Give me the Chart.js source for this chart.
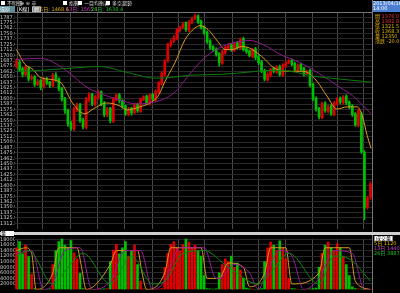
<!DOCTYPE html>
<html><head><meta charset="utf-8">
<script src="https://cdn.jsdelivr.net/npm/chart.js@4"></script>
<style>
html,body{margin:0;padding:0;background:#000;width:400px;height:293px;overflow:hidden;font-family:"DejaVu Sans","Noto Sans CJK TC",sans-serif;}
canvas{position:absolute;left:0;}
#main{top:0;}
#vol{top:235px;}
.t{position:absolute;white-space:nowrap;font-size:5px;line-height:6px;color:#ddd;}
.cb{position:absolute;width:4px;height:4px;background:#fff;border:0;}
</style>
</head><body>
<canvas id="main" width="400" height="232"></canvas>
<canvas id="vol" width="400" height="58"></canvas>

<!-- header -->
<div class="cb" style="left:1px;top:1px"></div><div class="t" style="left:7px;top:0px">不明細</div>
<div class="t" style="left:20px;top:0px">⊕ ⊖ 卒</div>
<div class="cb" style="left:63px;top:1px"></div><div class="t" style="left:69px;top:0px">指數</div>
<div class="cb" style="left:78px;top:1px"></div><div class="t" style="left:84px;top:0px">一目均衡表</div>
<div class="cb" style="left:106px;top:1px"></div><div class="t" style="left:112px;top:0px">多空趨勢</div>
<div class="t" style="left:0;top:6px;width:15px;height:6px;background:#5a8c99;color:#fff">還原</div>
<div class="t" style="left:17px;top:6px;color:#fff">[K線]</div>
<div class="t" style="left:32px;top:6px;background:#888;color:#fff">[週]</div>
<div class="t" style="left:40px;top:6px;color:#e0b000">5日: 1468.6</div>
<div class="t" style="left:66px;top:6px;color:#c040c0">13日: 1565.1</div>
<div class="t" style="left:91px;top:6px;color:#20c020">26日: 1638.4</div>
<div style="position:absolute;left:0;top:12px;width:372px;height:1px;background:#777"></div>
<!-- right panel -->
<div style="position:absolute;left:372px;top:0;width:1px;height:232px;background:#777"></div>
<div class="t" style="left:373px;top:1px;width:27px;height:11px;background:#4a7ed0;color:#fff;line-height:5px">2013/04/16<br>14:00</div>
<div class="t" style="left:375px;top:14px;color:#e0b000;line-height:5px">開 <span style="color:#f03030">1376.0</span><br>高 <span style="color:#f03030">1392.8</span><br>低 1321.5<br>收 1368.3<br>量 12350<br>漲跌 -20.0</div>
<!-- volume separator -->
<div style="position:absolute;left:0;top:232px;width:400px;height:3px;background:#d0d0d0"></div>
<div class="t" style="left:1px;top:231px;width:13px;height:5px;background:#fff;color:#000;line-height:5px">量</div>
<div style="position:absolute;left:372px;top:235px;width:1px;height:58px;background:#777"></div>
<div class="t" style="left:374px;top:236px;background:#fff;color:#000;line-height:5px">[成交量]</div>
<div class="t" style="left:374px;top:241px;color:#e0b000;line-height:5px">5日 1120</div>
<div class="t" style="left:374px;top:246px;color:#c040c0;line-height:5px">13日 1440</div>
<div class="t" style="left:374px;top:251px;color:#20c020;line-height:5px">26日 38870</div>

<script>
// ---- price data (USD/oz), one candle per ~1.5 trading days ----
const open = [1675,1684,1669,1655,1670,1647,1650,1632,1642,1628,
1646,1638,1630,1655,1646,1623,1600,1573,1544,1530,
1574,1586,1551,1533,1597,1611,1587,1603,1616,1590,
1561,1578,1547,1597,1609,1596,1583,1563,1578,1568,
1587,1570,1598,1606,1588,1610,1597,1615,1634,1656,
1688,1723,1733,1738,1757,1765,1775,1757,1776,1786,
1791,1779,1765,1753,1733,1720,1714,1704,1681,1706,
1716,1724,1711,1729,1716,1738,1715,1710,1697,1715,
1697,1685,1665,1643,1654,1669,1661,1674,1654,1675,
1684,1688,1681,1665,1679,1669,1658,1665,1633,1601,
1578,1556,1590,1570,1583,1563,1588,1601,1590,1606,
1592,1583,1565,1538,1565,1476,1350,1373];
const high = [1692,1688,1672,1676,1674,1655,1653,1644,1645,1648,
1649,1640,1658,1660,1648,1626,1603,1576,1548,1580,
1590,1589,1555,1603,1614,1613,1607,1619,1618,1594,
1580,1580,1603,1611,1612,1598,1585,1580,1580,1589,
1590,1602,1607,1608,1611,1613,1620,1640,1662,1690,
1728,1736,1745,1762,1767,1776,1777,1780,1788,1795,
1793,1781,1768,1756,1736,1722,1717,1706,1711,1721,
1726,1727,1730,1732,1740,1742,1718,1712,1716,1718,
1700,1688,1668,1660,1670,1672,1676,1677,1680,1687,
1690,1691,1684,1680,1682,1672,1666,1668,1636,1604,
1580,1592,1593,1585,1586,1594,1603,1604,1607,1609,
1595,1586,1568,1576,1569,1480,1375,1408];
const low = [1670,1662,1650,1652,1640,1642,1628,1630,1620,1624,
1632,1625,1627,1640,1618,1594,1566,1536,1527,1526,
1570,1545,1530,1530,1592,1584,1583,1598,1584,1558,
1558,1544,1545,1594,1590,1578,1561,1560,1562,1565,
1568,1568,1595,1586,1585,1595,1593,1612,1631,1652,
1684,1719,1729,1735,1753,1761,1755,1754,1772,1782,
1773,1760,1748,1727,1713,1709,1698,1675,1679,1702,
1712,1709,1708,1714,1713,1710,1704,1696,1694,1690,
1679,1660,1641,1640,1650,1659,1658,1652,1651,1672,
1680,1676,1663,1662,1664,1652,1654,1627,1595,1571,
1553,1553,1568,1567,1561,1560,1585,1588,1587,1586,
1577,1559,1536,1535,1474,1321,1345,1368];
const close = [1686,1667,1656,1672,1645,1649,1633,1640,1626,1645,
1636,1631,1654,1645,1622,1599,1572,1542,1531,1576,
1585,1549,1535,1599,1610,1588,1604,1615,1588,1563,
1576,1549,1599,1608,1595,1581,1565,1576,1567,1585,
1572,1599,1604,1590,1608,1599,1617,1636,1658,1686,
1724,1731,1740,1759,1763,1772,1759,1777,1784,1790,
1777,1763,1752,1731,1718,1713,1702,1683,1708,1718,
1722,1713,1727,1718,1736,1713,1708,1699,1713,1695,
1683,1663,1645,1656,1667,1663,1672,1656,1677,1683,
1686,1679,1667,1677,1667,1656,1663,1631,1599,1576,
1558,1588,1572,1581,1565,1590,1599,1592,1604,1590,
1581,1563,1540,1572,1478,1348,1371,1403];
const volume = [150000,172000,128000,160000,118000,55000,3000,2000,1500,1000,
1000,2000,90000,140000,172000,182000,160000,150000,176000,132000,
110000,58000,3000,2000,1500,1000,1000,1200,1500,2000,
3000,100000,142000,162000,128000,150000,172000,120000,140000,160000,
90000,30000,2000,1500,1000,1000,1000,1500,3000,80000,
130000,162000,172000,150000,140000,162000,182000,170000,150000,160000,
140000,120000,50000,3000,2000,1500,2000,60000,90000,110000,
100000,120000,80000,95000,70000,40000,5000,2000,1500,1000,
1500,3000,100000,150000,170000,160000,140000,175000,150000,110000,
40000,3000,2000,1500,1000,1000,1500,2000,3000,5000,
80000,130000,160000,170000,150000,140000,165000,150000,120000,90000,
50000,10000,3000,2000,1500,1200,1000,1000];

// moving-average lines (candle index, price)
const maShortX = [0,2.8,5.5,7.8,14.4,18.7,22.6,25.3,29.9,34.2,36.5,40.8,44.1,46.8,49.1,52.4,55.7,59,60.7,63.3,66.6,68.9,71.2,74.5,76.5,79.8,82.2,84.8,89.4,93.7,96,99.3,102.6,105.9,109.3,112.6,114.3,115.9,117.2];
const maShortY = [1713,1679,1667,1649,1638,1588,1565,1576,1590,1583,1574,1581,1590,1606,1640,1683,1736,1763,1768,1759,1731,1713,1713,1720,1718,1704,1690,1672,1663,1663,1661,1640,1606,1576,1581,1581,1560,1515,1485];
const maMidX = [0,7.8,13.4,18.7,23.3,29.9,34.2,39.2,44.1,52.4,56.7,62.3,67.9,73.2,77.2,82.2,87.1,93.7,99.3,106.9,111.2,117.2];
const maMidY = [1690,1693,1679,1652,1626,1606,1597,1588,1590,1615,1652,1695,1720,1731,1734,1722,1702,1683,1661,1626,1606,1565];
const maLongX = [0,7.8,17.7,27.6,36.2,46.4,51.4,57.4,67.9,76.5,83.8,90.4,98,106.9,117.2];
const maLongY = [1663,1665,1670,1674,1661,1647,1649,1654,1656,1661,1665,1663,1652,1645,1638];

const volMaShortX = [0,3,5,6.5,12,14,20,21.5,23,31,33,40,41.5,43,49,51,61,63,67,70,75,77,82,84,89,91,100,102,110,112,117];
const volMaShortY = [140000,150000,130000,0,60000,150000,150000,80000,0,90000,140000,140000,60000,0,60000,150000,150000,40000,40000,95000,80000,10000,60000,150000,150000,20000,60000,150000,150000,30000,0];
const volMaMidX = [0,5,9,12,16,21,25,31,36,41,45,49,54,62,66,67,72,77,80,82,87,91,95,100,105,111,115,117];
const volMaMidY = [130000,140000,0,20000,140000,150000,0,30000,140000,140000,0,30000,150000,150000,40000,40000,90000,60000,0,40000,140000,120000,0,40000,140000,130000,0,0];
const volMaLongX = [0,4,12,17,22,31,38,45,49,55,62,70,80,84,90,100,105,110,117];
const volMaLongY = [120000,140000,20000,80000,130000,20000,120000,20000,30000,130000,140000,80000,20000,60000,130000,20000,120000,110000,30000];

const monthTicks = [4.5,13,22.5,31,40.5,49.5,57.5,67,75.5,84.5,93.5,102,110.5];
const monthLabels = [['2012/','4'],['','5'],['','6'],['','7'],['','8'],['','9'],['','10'],['','11'],['','12'],['2013/1',''],['','2'],['','3'],['','4']];
const priceTicks = [1312.5,1325,1337.5,1350,1362.5,1375,1387.5,1400,1412.5,1425,1437.5,1450,1462.5,1475,1487.5,1500,1512.5,1525,1537.5,1550,1562.5,1575,1587.5,1600,1612.5,1625,1637.5,1650,1662.5,1675,1687.5,1700,1712.5,1725,1737.5,1750,1762.5,1775,1787.5];
const volTicks = [20000,40000,60000,80000,100000,120000,140000,160000,180000];

const RED = '#e00000', GREEN = '#00c000';
const idx = close.map((_, i) => i);
const col = idx.map(i => close[i] >= open[i] ? RED : GREEN);
const pts = (xs, ys) => xs.map((x, k) => ({x, y: ys[k]}));
const font5 = {size: 5, family: 'DejaVu Sans', lineHeight: 1};

function xScale(showLabels) {
  return {
    type: 'linear', min: -0.5, max: 117.5, offset: false,
    afterBuildTicks: s => { s.ticks = monthTicks.map(v => ({value: v})); },
    afterFit: s => { s.height = 0; },
    grid: {color: '#4a4a4a', lineWidth: 1, drawTicks: false},
    border: {display: false},
    ticks: {display: showLabels, autoSkip: false, maxRotation: 0, align: 'start', padding: -9,
      color: '#c8c8c8', font: font5, callback: (v, i) => monthLabels[i]}
  };
}
function yScale(min, max, ticks, fmt) {
  return {
    type: 'linear', position: 'left', min, max,
    afterBuildTicks: s => { s.ticks = ticks.map(v => ({value: v})); },
    afterFit: s => { s.width = 15; },
    grid: {color: '#2a2a2a', lineWidth: 1, drawTicks: false},
    border: {display: false},
    ticks: {autoSkip: false, crossAlign: 'far', padding: 1, color: '#c8c8c8', font: font5, callback: fmt}
  };
}
const lineDs = (data, color) => ({type: 'line', data, borderColor: color, borderWidth: 1, pointRadius: 0, cubicInterpolationMode: 'monotone', order: 1});

new Chart(document.getElementById('main'), {
  type: 'bar',
  data: {datasets: [
    {data: idx.map(i => ({x: i, y: [low[i], high[i]]})), backgroundColor: col, barThickness: 1, grouped: false, order: 3},
    {data: idx.map(i => ({x: i, y: [open[i], close[i]]})), backgroundColor: col, barThickness: 2, grouped: false, minBarLength: 1, order: 2},
    lineDs(pts(maLongX, maLongY), '#0a7a0a'),
    lineDs(pts(maMidX, maMidY), '#8a1a8a'),
    lineDs(pts(maShortX, maShortY), '#d89a20')
  ]},
  options: {
    responsive: false, animation: false, events: [],
    layout: {padding: {left: 0, right: 28, top: 12, bottom: 1}},
    plugins: {legend: {display: false}, tooltip: {enabled: false}},
    scales: {x: xScale(true), y: yScale(1300.7, 1799.6, priceTicks, v => v.toFixed(1))}
  }
});

new Chart(document.getElementById('vol'), {
  type: 'bar',
  data: {datasets: [
    {data: idx.map(i => ({x: i, y: volume[i]})), backgroundColor: col, barThickness: 2, grouped: false, order: 2},
    lineDs(pts(volMaLongX, volMaLongY), '#0a8a0a'),
    lineDs(pts(volMaMidX, volMaMidY), '#9a1a9a'),
    lineDs(pts(volMaShortX, volMaShortY), '#d89a20')
  ]},
  options: {
    responsive: false, animation: false, events: [],
    layout: {padding: {left: 0, right: 28, top: 0, bottom: 2}},
    plugins: {legend: {display: false}, tooltip: {enabled: false}},
    scales: {x: xScale(false), y: yScale(0, 183300, volTicks, v => String(v))}
  }
});
</script>
</body></html>
